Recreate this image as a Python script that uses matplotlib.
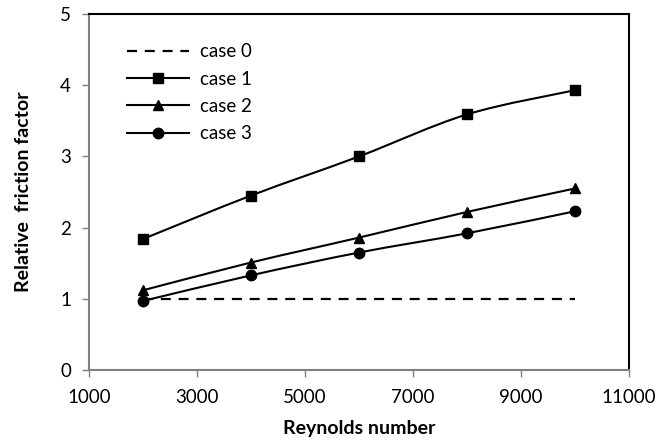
"""
Relative friction factor vs Reynolds number
"""

import numpy as np
import matplotlib.pyplot as plt
from matplotlib.path import Path
from matplotlib.patches import PathPatch
from matplotlib.lines import Line2D

# DATA
reynolds = [2000, 4000, 6000, 8000, 10000]
case_0 = [1.0, 1.0, 1.0, 1.0, 1.0]
case_1 = [1.84, 2.45, 3.0, 3.59, 3.93]
case_2 = [1.12, 1.51, 1.86, 2.22, 2.55]
case_3 = [0.97, 1.33, 1.65, 1.92, 2.23]
labels = ["case 0", "case 1", "case 2", "case 3"]

plt.rcParams['font.family'] = ['Lato', 'DejaVu Sans']


def smooth_path(x, y, tension=1 / 6):
    # bezier through the points, like a spreadsheet "smoothed line"
    pts = np.column_stack([x, y]).astype(float)
    verts = [pts[0]]
    codes = [Path.MOVETO]
    n = len(pts)
    for i in range(n - 1):
        p0 = pts[i - 1] if i > 0 else pts[i]
        p1 = pts[i]
        p2 = pts[i + 1]
        p3 = pts[i + 2] if i + 2 < n else pts[i + 1]
        c1 = p1 + (p2 - p0) * tension
        c2 = p2 - (p3 - p1) * tension
        verts += [c1, c2, p2]
        codes += [Path.CURVE4] * 3
    return Path(verts, codes)


fig = plt.figure(figsize=(6.57, 4.45), dpi=100)
ax = fig.add_axes([0.1355, 0.1685, 0.8219, 0.80])

# case 0 reference line
ax.plot(reynolds, case_0, color='black', lw=1.6, ls=(0, (4.5, 3.5)))

series = [(case_1, 's'), (case_2, '^'), (case_3, 'o')]
for values, marker in series:
    ax.add_patch(PathPatch(smooth_path(reynolds, values), fill=False,
                           edgecolor='black', lw=1.5))
    ax.plot(reynolds, values, ls='none', marker=marker, color='black',
            markersize=7 if marker != 'o' else 7.5)

ax.set_xlim(1000, 11000)
ax.set_ylim(0, 5)
ax.set_xticks(np.arange(1000, 11001, 2000))
ax.set_yticks(np.arange(0, 6, 1))
ax.tick_params(direction='out', length=5, width=1, color='#808080',
               labelsize=13.5)
ax.tick_params(axis='x', pad=9)
ax.tick_params(axis='y', pad=8)

for side in ['left', 'bottom']:
    ax.spines[side].set_color('#808080')
    ax.spines[side].set_linewidth(1.5)
for side in ['top', 'right']:
    ax.spines[side].set_color('black')
    ax.spines[side].set_linewidth(1.5)

ax.set_xlabel("Reynolds number", fontsize=14, fontweight='bold', labelpad=10)
ax.set_ylabel("Relative  friction factor", fontsize=14, fontweight='bold', labelpad=20)

handles = [
    Line2D([], [], color='black', lw=1.6, ls=(0, (4.5, 3.5))),
    Line2D([], [], color='black', lw=1.5, marker='s', markersize=7),
    Line2D([], [], color='black', lw=1.5, marker='^', markersize=7),
    Line2D([], [], color='black', lw=1.5, marker='o', markersize=7.5),
]
ax.legend(handles, labels, loc='upper left', bbox_to_anchor=(0.04, 0.965),
          frameon=False, fontsize=13.5, handlelength=3.3, handletextpad=0.55,
          labelspacing=0.55)

fig.savefig("out.png")
